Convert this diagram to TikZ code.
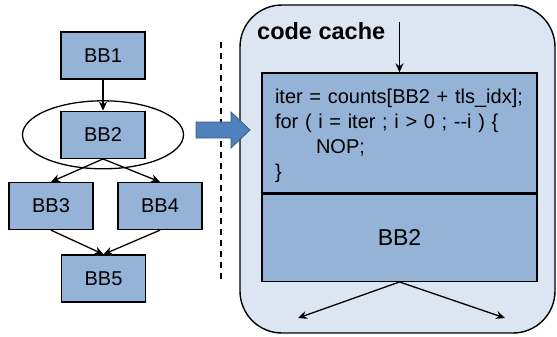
\documentclass[tikz,border=0pt]{standalone}
\usepackage{fontspec}
\setmainfont{Liberation Sans}
\usetikzlibrary{positioning, shapes.geometric, arrows.meta}

\definecolor{bbfill}{HTML}{95B3D7}
\definecolor{cachefill}{HTML}{DCE6F2}
\definecolor{bigarrow}{HTML}{4F81BD}
\definecolor{bigarrowline}{HTML}{385D8A}

\begin{document}
\begin{tikzpicture}[x=1pt, y=-1pt, >={Stealth[length=9pt,width=8pt]},
  bb/.style={draw, line width=1.3pt, fill=bbfill, minimum width=84pt, minimum height=47pt,
    inner sep=0pt, font=\fontsize{20}{24}\selectfont},
  edge/.style={->, line width=1.3pt}]
  \useasboundingbox (0,0) rectangle (557,337);
  % control flow graph
  \node (bb1) [bb] at (103,55.5) {BB1};
  \node (bb2) [bb, below=31pt of bb1] {BB2};
  \node (bb3) [bb] at (51,206) {BB3};
  \node (bb4) [bb] at (160,206) {BB4};
  \node (bb5) [bb] at (103.5,278.5) {BB5};
  \node (trace) [draw, ellipse, line width=1.3pt, minimum width=161pt, minimum height=68pt] at (bb2) {};
  \draw[edge] (bb1) -- (bb2);
  \draw[edge] (bb2.south) -- (bb3.north);
  \draw[edge] (bb2.south) -- (bb4.north);
  \draw[edge] (bb3.south) -- (bb5.north);
  \draw[edge] (bb4.south) -- (bb5.north);
  % separator
  \coordinate (sep-top) at (221,42);
  \coordinate (sep-bot) at (221,282);
  \draw[line width=1.3pt, dash pattern=on 6pt off 5pt] (sep-top) -- (sep-bot);
  % code cache
  \node (cache) [draw, line width=1.4pt, fill=cachefill, rounded corners=42pt,
    minimum width=315pt, minimum height=328pt] at (397.5,169) {};
  \draw[line width=0.8pt, fill=bigarrow, draw=bigarrowline]
    (196,122) -- (231,122) -- (231,112) -- (250,130) -- (231,148) -- (231,138) -- (196,138) -- cycle;
  \node (title) [anchor=west, inner sep=0pt, font=\fontsize{23.5}{28}\bfseries\selectfont] at (257,31) {code cache};
  \node (code) [draw, line width=1.3pt, fill=bbfill, minimum width=275pt, minimum height=120pt,
    text width=249pt, inner xsep=13pt, align=left, font=\fontsize{20}{25}\selectfont] at (399.5,133)
    {\rule{0pt}{21pt}iter = counts[BB2 + tls\_idx];\\
     for ( i = iter ; i > 0 ; {-}{-}i ) \{\\
     \hspace*{41pt}NOP;\\
     \}};
  \node (cachebb) [bb, minimum width=275pt, minimum height=87pt, below=0pt of code,
    font=\fontsize{23}{27}\selectfont] {BB2};
  \coordinate (entry) at (code.north |- 0,22);
  \coordinate (exit-l) at (298,318);
  \coordinate (exit-r) at (505,318);
  \draw[edge] (entry) -- (code.north);
  \draw[edge] (cachebb.south) -- (exit-l);
  \draw[edge] (cachebb.south) -- (exit-r);
\end{tikzpicture}
\end{document}
